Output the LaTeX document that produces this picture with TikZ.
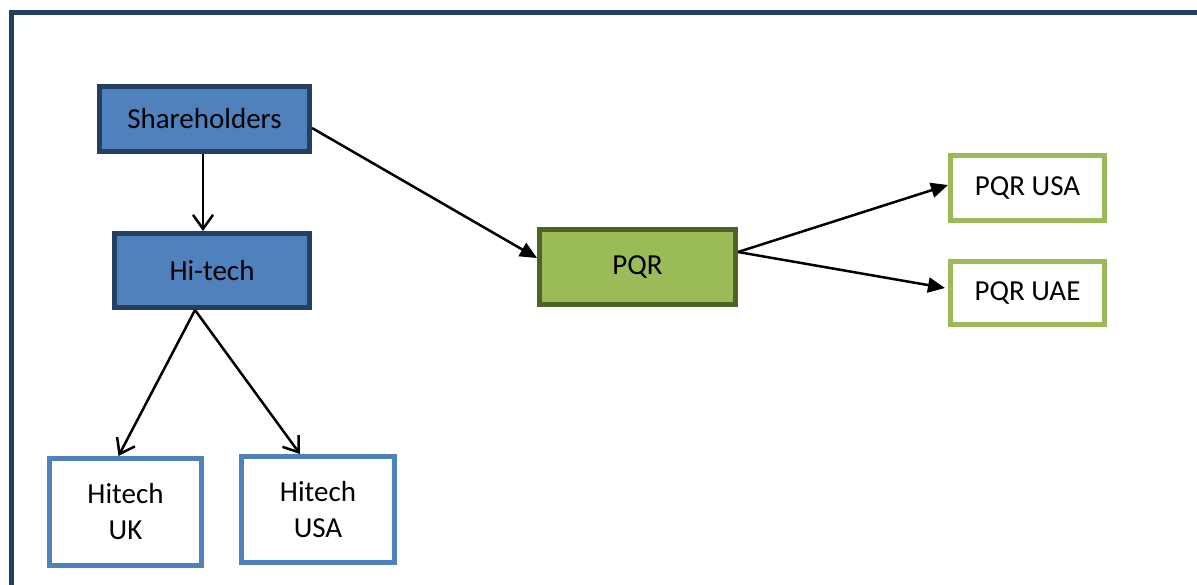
\documentclass[tikz,border=0pt]{standalone}
\usepackage{fontspec}
\setmainfont{Carlito}
\usetikzlibrary{arrows.meta}
\definecolor{darkblue}{HTML}{243F60}
\definecolor{midblue}{HTML}{4F81BD}
\definecolor{lightgreen}{HTML}{9BBB59}
\definecolor{darkgreen}{HTML}{4F6228}
\tikzset{
  box/.style={draw, line width=5pt, inner sep=0pt, align=center,
    font=\fontsize{29}{36}\selectfont},
  bluebox/.style={box, draw=darkblue, fill=midblue},
  greenbox/.style={box, draw=darkgreen, fill=lightgreen},
  blueoutline/.style={box, draw=midblue, fill=white},
  greenoutline/.style={box, draw=lightgreen, fill=white},
  openarrow/.style={line width=2.5pt, -{Straight Barb[length=14pt,width=20pt,line width=2.5pt]}},
  fillarrow/.style={line width=2.5pt, -{Triangle[length=17pt,width=15pt]}},
  frame/.style={draw=darkblue, line width=5pt}
}
\begin{document}
\begin{tikzpicture}[x=1pt,y=-1pt]
\useasboundingbox (0,0) rectangle (1197,584);
\clip (0,0) rectangle (1197,584);
\fill[white] (0,0) rectangle (1197,584);
\draw[frame] (11,12.5) rectangle (1230,620);

\node[bluebox, minimum width=210pt, minimum height=65pt] (sh) at (204.5,119) {Shareholders};
\node[bluebox, minimum width=195pt, minimum height=74pt] (ht) at (212,270.5) {Hi-tech};
\node[blueoutline, minimum width=152pt, minimum height=107pt] (uk) at (125.5,512) {Hitech\\UK};
\node[blueoutline, minimum width=153pt, minimum height=106pt] (usa) at (318,509.5) {Hitech\\USA};
\node[greenbox, minimum width=196pt, minimum height=75pt] (pqr) at (637.5,267) {PQR};
\node[greenoutline, minimum width=154pt, minimum height=65pt] (pusa) at (1027.5,188) {PQR USA};
\node[greenoutline, minimum width=154pt, minimum height=63pt] (puae) at (1027.5,293) {PQR UAE};

\draw[openarrow] ([xshift=-1.5pt]sh.south) -- ([xshift=-1.5pt]sh.south |- ht.north);
\draw[fillarrow] ([yshift=-9pt]sh.east) -- ([yshift=9pt]pqr.west);
\draw[openarrow] ([xshift=-17pt]ht.south) -- ([xshift=-7pt]uk.north);
\draw[openarrow] ([xshift=-17pt]ht.south) -- ([xshift=-18pt]usa.north);
\draw[fillarrow] ([yshift=15pt]pqr.east) -- ([yshift=3pt]pusa.west);
\draw[fillarrow] ([yshift=15pt]pqr.east) -- ([xshift=-3pt,yshift=5pt]puae.west);
\end{tikzpicture}
\end{document}
